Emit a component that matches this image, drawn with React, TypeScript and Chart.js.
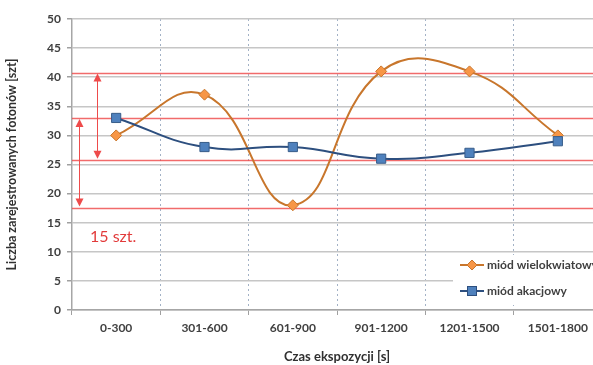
import React, { useEffect, useRef } from "react";
import { Chart, registerables } from "chart.js";

Chart.register(...registerables);

const categories = ["0-300", "301-600", "601-900", "901-1200", "1201-1500", "1501-1800"];
const wielokwiatowy = [30, 37, 18, 41, 41, 30];
const akacjowy = [33, 28, 28, 26, 27, 29];
const seriesNames = ["miód wielokwiatowy", "miód akacjowy"];
const redLevels = [40.8, 33, 25.8, 17.6];
const arrowRanges = [
  [40.8, 25.8],
  [33, 17.6],
];
const annotationText = "15 szt.";
const yTitle = "Liczba zarejestrowanych fotonów [szt]";
const xTitle = "Czas ekspozycji [s]";

const FONT = "Lato, 'Open Sans', sans-serif";
const ORANGE_LINE = "#c8762c";
const ORANGE_FILL = "#f79646";
const BLUE_LINE = "#2d4f7f";
const BLUE_FILL = "#4f81bd";
const RED = "#ee4b4b";

const annotationPlugin = {
  id: "annot",
  beforeDatasetsDraw(chart: any) {
    const { ctx, chartArea, scales } = chart;
    const y = scales.y;
    ctx.save();
    ctx.strokeStyle = "rgba(238,70,70,0.8)";
    ctx.lineWidth = 1.3;
    redLevels.forEach((v) => {
      const py = Math.round(y.getPixelForValue(v)) + 0.5;
      ctx.beginPath();
      ctx.moveTo(chartArea.left, py);
      ctx.lineTo(chartArea.right, py);
      ctx.stroke();
    });
    const xs = [chartArea.left + 25, chartArea.left + 7];
    arrowRanges.forEach((r, i) => {
      const x = xs[i] + 0.5;
      const yTop = y.getPixelForValue(r[0]) + 1;
      const yBot = y.getPixelForValue(r[1]) - 1;
      ctx.strokeStyle = RED;
      ctx.fillStyle = RED;
      ctx.lineWidth = 1;
      ctx.beginPath();
      ctx.moveTo(x, yTop + 4);
      ctx.lineTo(x, yBot - 4);
      ctx.stroke();
      ctx.beginPath();
      ctx.moveTo(x, yTop);
      ctx.lineTo(x - 4, yTop + 8);
      ctx.lineTo(x + 4, yTop + 8);
      ctx.closePath();
      ctx.fill();
      ctx.beginPath();
      ctx.moveTo(x, yBot);
      ctx.lineTo(x - 4, yBot - 8);
      ctx.lineTo(x + 4, yBot - 8);
      ctx.closePath();
      ctx.fill();
    });
    ctx.fillStyle = "#e23b3b";
    ctx.font = "16px " + FONT;
    ctx.textBaseline = "middle";
    ctx.textAlign = "left";
    ctx.fillText(annotationText, chartArea.left + 18, y.getPixelForValue(redLevels[3]) + 29);
    ctx.restore();
  },
  afterDatasetsDraw(chart: any) {
    const { ctx, chartArea } = chart;
    ctx.save();
    const bx = chartArea.left + 381;
    const by = chartArea.bottom - 55;
    ctx.fillStyle = "#ffffff";
    ctx.fillRect(bx, by, chartArea.right - bx + 10, 50);
    const items = [
      { line: ORANGE_LINE, fill: ORANGE_FILL, style: "diamond" },
      { line: BLUE_LINE, fill: BLUE_FILL, style: "square" },
    ];
    items.forEach((it, i) => {
      const cy = by + 10 + i * 26;
      const x0 = bx + 7;
      ctx.strokeStyle = it.line;
      ctx.lineWidth = 2;
      ctx.beginPath();
      ctx.moveTo(x0, cy);
      ctx.lineTo(x0 + 24, cy);
      ctx.stroke();
      const mx = x0 + 12;
      ctx.fillStyle = it.fill;
      ctx.lineWidth = 1;
      if (it.style === "diamond") {
        ctx.beginPath();
        ctx.moveTo(mx, cy - 5);
        ctx.lineTo(mx + 5, cy);
        ctx.lineTo(mx, cy + 5);
        ctx.lineTo(mx - 5, cy);
        ctx.closePath();
        ctx.fill();
        ctx.stroke();
      } else {
        ctx.fillRect(mx - 5, cy - 5, 10, 10);
        ctx.strokeRect(mx - 5 + 0.5, cy - 5 + 0.5, 9, 9);
      }
      ctx.fillStyle = "#404040";
      ctx.font = "bold 12px " + FONT;
      ctx.textBaseline = "middle";
      ctx.textAlign = "left";
      ctx.fillText(seriesNames[i], x0 + 27, cy);
    });
    ctx.restore();
  },
};

export default function App() {
  const ref = useRef<HTMLCanvasElement>(null);
  useEffect(() => {
    const canvas = ref.current!;
    const chart = new Chart(canvas, {
      type: "line",
      data: {
        labels: categories,
        datasets: [
          {
            label: seriesNames[0],
            data: wielokwiatowy,
            borderColor: ORANGE_LINE,
            borderWidth: 2,
            backgroundColor: ORANGE_FILL,
            pointStyle: "rectRot",
            pointRadius: 5.5,
            pointBackgroundColor: ORANGE_FILL,
            pointBorderColor: ORANGE_LINE,
            pointBorderWidth: 1,
            tension: 0.45,
            order: 1,
          },
          {
            label: seriesNames[1],
            data: akacjowy,
            borderColor: BLUE_LINE,
            borderWidth: 2,
            backgroundColor: BLUE_FILL,
            pointStyle: "rect",
            pointRadius: 6.5,
            pointBackgroundColor: BLUE_FILL,
            pointBorderColor: "#385d8a",
            pointBorderWidth: 1,
            tension: 0.45,
            order: 0,
          },
        ],
      },
      options: {
        responsive: false,
        animation: false,
        devicePixelRatio: 1,
        layout: { padding: { top: 19, right: 8, left: 0, bottom: 0 } },
        plugins: { legend: { display: false }, tooltip: { enabled: false } },
        scales: {
          x: {
            type: "category",
            offset: true,
            grid: {
              offset: true,
              color: "#a3b2c6",
              lineWidth: 1,
              tickLength: 5,
              tickColor: "#a0a0a0",
              tickWidth: 1,
            },
            border: { display: true, color: "#a6a6a6", width: 1.5, dash: [2, 3] },
            ticks: {
              color: "#404040",
              font: { family: FONT, size: 12, weight: "bold" },
              padding: 6,
              maxRotation: 0,
            },
            title: {
              display: true,
              text: xTitle,
              color: "#303030",
              font: { family: FONT, size: 13, weight: "bold" },
              padding: { top: 2, bottom: 0 },
            },
            afterFit: (s: any) => {
              s.height = 55;
            },
          },
          y: {
            min: 0,
            max: 50,
            ticks: {
              stepSize: 5,
              color: "#404040",
              font: { family: FONT, size: 12, weight: "bold" },
              padding: 6,
            },
            grid: {
              color: "#c6c6c6",
              lineWidth: 1.5,
              tickLength: 5,
              tickColor: "#a0a0a0",
            },
            border: { display: true, color: "#a6a6a6", width: 1.5 },
            title: {
              display: true,
              text: yTitle,
              color: "#303030",
              font: { family: FONT, size: 12.5, weight: "bold" },
              padding: { top: 4, bottom: 0 },
            },
            afterFit: (s: any) => {
              s.width = 72;
            },
          },
        },
      },
      plugins: [annotationPlugin],
    });
    return () => chart.destroy();
  }, []);
  return (
    <div style={{ position: "fixed", left: 0, top: 0, width: 593, height: 365, overflow: "hidden", background: "#fff" }}>
      <canvas ref={ref} width={610} height={365} style={{ display: "block", width: 610, height: 365 }} />
    </div>
  );
}
